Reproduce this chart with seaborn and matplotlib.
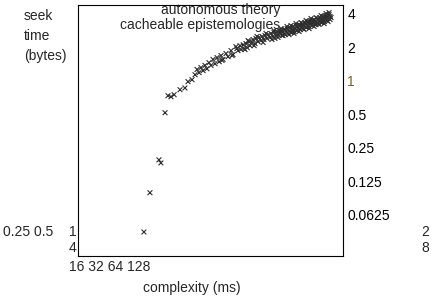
import matplotlib
matplotlib.use("Agg")
import matplotlib.pyplot as plt
import seaborn as sns
import pandas as pd

# ---------------- data ----------------
series_names = ["autonomous theory", "cacheable epistemologies"]

theory_x = [1.18, 1.36, 1.76, 1.68, 1.94, 2.08, 2.23, 2.4, 2.76, 3.1, 3.33, 3.66, 3.93,
            4.12, 4.52, 4.97, 5.46, 6.0, 6.6, 7.25, 8.15, 9.18, 10.3,
            11.34, 12.2, 13.05, 14.0, 15.0, 16.13, 17.3, 18.6, 19.9, 21.4, 22.97, 24.6,
            26.4, 27.7, 29.1, 29.8, 31.2, 32.7, 34.3, 35.9, 37.6, 39.5, 41.4, 43.4,
            45.5, 47.7, 50.0, 52.4, 55.0, 57.6, 60.3, 63.3, 66.3, 69.5, 72.9, 76.4,
            80.1, 83.9, 88.0, 92.2, 38.5, 50.0, 63.3, 78.2, 94.4, 46.6, 74.6, 67.9]
theory_y = [0.044, 0.099, 0.183, 0.195, 0.516, 0.733, 0.718, 0.749, 0.83, 0.86, 0.98, 1.02, 1.13,
            1.26, 1.31, 1.37, 1.45, 1.55, 1.61, 1.68, 1.75, 1.86, 2.02,
            2.06, 2.10, 2.15, 2.24, 2.20, 2.15, 2.24, 2.29, 2.34, 2.39, 2.44, 2.49,
            2.54, 2.59, 2.65, 2.81, 2.71, 2.59, 2.93, 2.81, 2.71, 3.06, 2.93, 2.81,
            3.19, 3.06, 2.93, 3.32, 3.19, 3.06, 3.46, 3.32, 3.19, 3.61, 3.46, 3.32,
            3.76, 3.61, 3.46, 3.92, 2.71, 3.19, 3.46, 3.32, 3.76, 3.12, 3.46, 3.19]

episte_x = [4.32, 4.75, 5.2, 5.72, 6.29, 6.94, 7.6, 8.55, 9.62, 10.8,
            11.6, 12.5, 13.4, 14.34, 15.4, 16.5, 17.7, 19.05, 20.4, 21.9, 23.5, 25.2,
            27.0, 28.4, 25.8, 30.5, 31.9, 33.5, 35.1, 36.8, 38.5, 40.4, 42.4, 44.4,
            46.6, 48.9, 51.2, 53.7, 56.2, 58.9, 61.8, 64.8, 67.9, 71.2, 74.6, 78.2,
            82.0, 85.9, 90.1, 94.4, 43.4, 56.2, 71.2, 85.9, 32.7, 58.9, 83.9, 53.7,
            7.42, 9.4, 10.55, 12.75, 13.7, 15.8, 16.9, 19.5, 20.9, 24.0, 25.2, 27.7,
            29.8, 31.2, 34.3, 35.9, 37.6, 40.4, 42.4, 45.5, 47.7, 51.2, 53.7, 57.6,
            60.3, 64.8, 67.9, 72.9, 76.4, 82.0, 85.9, 90.1, 92.2, 96.6, 80.1, 61.8,
            48.9, 39.5]
episte_y = [1.18, 1.23, 1.28, 1.37, 1.42, 1.48, 1.55, 1.64, 1.71, 1.86,
            1.90, 1.94, 1.98, 2.06, 2.34, 2.39, 2.44, 2.49, 2.54, 2.59, 2.65, 2.71,
            2.76, 2.81, 2.39, 2.54, 2.87, 2.76, 2.65, 2.99, 2.87, 2.76, 3.12, 2.99,
            2.87, 3.25, 3.12, 2.99, 3.39, 3.25, 3.12, 3.53, 3.39, 3.25, 3.68, 3.53,
            3.39, 3.84, 3.68, 3.53, 3.06, 3.12, 3.53, 3.61, 2.87, 3.39, 3.76, 3.25,
            1.52, 1.68, 1.94, 1.90, 2.29, 2.06, 2.49, 2.20, 2.65, 2.34, 2.81, 2.44,
            2.93, 2.54, 3.06, 2.59, 3.12, 2.65, 3.25, 2.76, 3.32, 2.87, 3.46, 2.93,
            3.61, 3.06, 3.68, 3.19, 3.84, 3.25, 4.00, 3.39, 4.08, 3.68, 3.53, 3.32,
            3.06, 2.87]

y_ticks = [0.0625, 0.125, 0.25, 0.5, 1, 2, 4]
y_tick_labels = ["0.0625", "0.125", "0.25", "0.5", "1", "2", "4"]
x_label_rows = ["0.25 0.5", "1", "4", "16 32 64 128", "2", "8"]

# ---------------- plot ----------------
sns.set_style("white")
plt.rcParams["font.family"] = ["Liberation Sans", "DejaVu Sans"]

df = pd.concat([
    pd.DataFrame({"complexity": theory_x, "seek": theory_y, "series": series_names[0]}),
    pd.DataFrame({"complexity": episte_x, "seek": episte_y, "series": series_names[1]}),
], ignore_index=True)

fig = plt.figure(figsize=(4.37, 3.02), dpi=100)
W, H = 437, 302
ax = fig.add_axes([78 / W, 1 - 256 / H, 265 / W, 251 / H])

sns.scatterplot(data=df, x="complexity", y="seek", hue="series",
                palette=["#2e2e2e", "#2e2e2e"], marker="x", s=12,
                linewidth=0.8, legend=False, ax=ax)

ax.set_xscale("log", base=2)
ax.set_yscale("log", base=2)
ax.set_xlim(0.25, 128)
ax.set_ylim(0.0268, 4.77)
ax.minorticks_off()
ax.set_xticks([])
ax.yaxis.tick_right()
ax.set_yticks(y_ticks)
ax.set_yticklabels(y_tick_labels)
ax.tick_params(axis="y", length=0, pad=3, labelsize=10, colors="black")
ax.get_yticklabels()[4].set_color("#7a6420")
ax.set_xlabel("")
ax.set_ylabel("")
for sp in ax.spines.values():
    sp.set_visible(True)
    sp.set_color("black")
    sp.set_linewidth(0.8)

# key texts
ax.text((280 - 78) / 265, (256 - 10) / 251, series_names[0], transform=ax.transAxes,
        ha="right", va="center", fontsize=10)
ax.text((280 - 78) / 265, (256 - 25) / 251, series_names[1], transform=ax.transAxes,
        ha="right", va="center", fontsize=10)

# left label
for i, t in enumerate(["seek", "time", "(bytes)"]):
    fig.text(24 / W, 1 - (16 + 20 * i) / H, t, ha="left", va="center", fontsize=10)

# garbled x tick labels as in the reference
pos = [(3, 232), (69, 232), (69, 248), (69, 267), (421, 232), (421, 248)]
for (px, py), t in zip(pos, x_label_rows):
    fig.text(px / W, 1 - py / H, t, ha="left", va="center", fontsize=10)
fig.text(192 / W, 1 - 288 / H, "complexity (ms)", ha="center", va="center", fontsize=10)

fig.savefig("out.png", dpi=100)
